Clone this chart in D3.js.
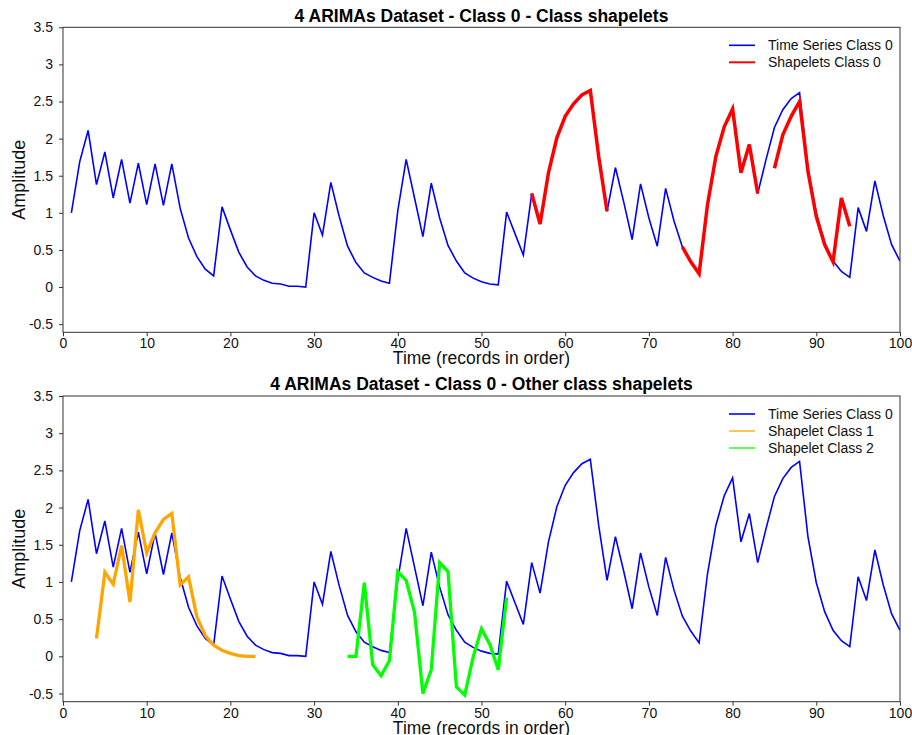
<!DOCTYPE html>
<html>
<head>
<meta charset="utf-8">
<script src="https://cdn.jsdelivr.net/npm/d3@7"></script>
<style>
  html, body { margin: 0; padding: 0; background: #fff; }
  svg { display: block; font-family: "Liberation Sans", Arial, sans-serif; }
</style>
</head>
<body>
<svg id="chart" width="912" height="735"></svg>
<script>
// ---------------- data ----------------
const timeIndex = d3.range(1, 101);
const seriesClass0 = [
  1.00, 1.69, 2.11, 1.38, 1.82, 1.20, 1.72, 1.13, 1.67, 1.11,
  1.66, 1.10, 1.66, 1.06, 0.66, 0.41, 0.24, 0.15, 1.08, 0.77,
  0.47, 0.27, 0.15, 0.09, 0.05, 0.04, 0.01, 0.01, 0.00, 1.00,
  0.70, 1.41, 0.95, 0.55, 0.33, 0.19, 0.13, 0.08, 0.05, 1.03,
  1.72, 1.20, 0.68, 1.40, 0.93, 0.56, 0.35, 0.19, 0.12, 0.07,
  0.04, 0.03, 1.01, 0.72, 0.43, 1.26, 0.85, 1.54, 2.01, 2.30,
  2.47, 2.59, 2.65, 1.76, 1.02, 1.61, 1.14, 0.64, 1.39, 0.93,
  0.55, 1.33, 0.89, 0.54, 0.34, 0.18, 1.11, 1.76, 2.16, 2.40,
  1.54, 1.92, 1.26, 1.72, 2.15, 2.39, 2.54, 2.62, 1.61, 0.99,
  0.60, 0.35, 0.21, 0.13, 1.07, 0.75, 1.43, 0.96, 0.57, 0.35
];

// class 0 shapelets (start index + values)
const shapeletA_start = 56;
const shapeletA = [1.26, 0.85, 1.54, 2.01, 2.30, 2.47, 2.59, 2.65, 1.76, 1.02];
const shapeletB_start = 74;
const shapeletB = [0.54, 0.34, 0.18, 1.11, 1.76, 2.16, 2.40, 1.54, 1.92, 1.26];
const shapeletC_start = 85;
const shapeletC = [1.60, 2.05, 2.30, 2.50, 1.56, 0.95, 0.57, 0.34, 1.20, 0.82];

// other class shapelets
const shapeletClass1_start = 4;
const shapeletClass1 = [0.24, 1.13, 0.97, 1.49, 0.73, 1.97, 1.39, 1.66, 1.84, 1.92,
                        0.96, 1.07, 0.53, 0.28, 0.15, 0.08, 0.04, 0.01, 0.00, 0.00];
const shapeletClass2_start = 34;
const shapeletClass2 = [0.00, 0.00, 0.99, -0.11, -0.26, -0.06, 1.14, 1.02, 0.59, -0.50,
                        -0.18, 1.26, 1.14, -0.41, -0.52, -0.01, 0.37, 0.16, -0.18, 0.79];

const xTicks = [0, 10, 20, 30, 40, 50, 60, 70, 80, 90, 100];
const yTicks = [-0.5, 0, 0.5, 1, 1.5, 2, 2.5, 3, 3.5];
const xDomain = [0, 100];
const yDomain = [-0.61, 3.5];

const titles = ["4 ARIMAs Dataset - Class 0 - Class shapelets",
                "4 ARIMAs Dataset - Class 0 - Other class shapelets"];
const xLabel = "Time (records in order)";
const yLabel = "Amplitude";

// ---------------- drawing ----------------
const svg = d3.select("#chart");
const left = 63, right = 900;

function toPoints(start, vals) {
  return vals.map((v, i) => ({ x: start + i, y: v }));
}

function panel(top, bottom, title, lines, legendItems) {
  const x = d3.scaleLinear().domain(xDomain).range([left, right]);
  const y = d3.scaleLinear().domain(yDomain).range([bottom, top]);
  const g = svg.append("g");

  const clipId = "clip" + Math.round(top);
  g.append("clipPath").attr("id", clipId)
    .append("rect").attr("x", left).attr("y", top)
    .attr("width", right - left).attr("height", bottom - top);

  const line = d3.line().x(d => x(d.x)).y(d => y(d.y));
  const lg = g.append("g").attr("clip-path", `url(#${clipId})`);
  lines.forEach(l => {
    lg.append("path").datum(l.data)
      .attr("fill", "none").attr("stroke", l.color)
      .attr("stroke-width", l.width)
      .attr("stroke-linejoin", "miter").attr("stroke-miterlimit", 4)
      .attr("d", line);
  });

  // axes
  const xa = g.append("g").attr("transform", `translate(0,${bottom})`)
    .call(d3.axisBottom(x).tickValues(xTicks).tickFormat(d3.format("d"))
      .tickSize(4).tickSizeOuter(0).tickPadding(2));
  const ya = g.append("g").attr("transform", `translate(${left},0)`)
    .call(d3.axisLeft(y).tickValues(yTicks).tickFormat(d => String(d))
      .tickSize(4).tickSizeOuter(0).tickPadding(6));
  [xa, ya].forEach(a => {
    a.select(".domain").remove();
    a.selectAll(".tick line").attr("stroke", "#333");
    a.selectAll(".tick text").attr("fill", "#111")
      .style("font-size", "14px").style("font-family", '"Liberation Sans", Arial, sans-serif');
  });

  // frame
  g.append("rect").attr("x", left).attr("y", top)
    .attr("width", right - left).attr("height", bottom - top)
    .attr("fill", "none").attr("stroke", "#333").attr("stroke-width", 1);

  // title
  g.append("text").attr("x", (left + right) / 2).attr("y", top - 5.8)
    .attr("text-anchor", "middle").style("font-weight", "bold")
    .style("font-size", "17.5px").attr("fill", "#000").text(title);

  // x label
  g.append("text").attr("x", (left + right) / 2).attr("y", bottom + 32)
    .attr("text-anchor", "middle").style("font-size", "17.5px")
    .attr("fill", "#111").text(xLabel);

  // y label
  g.append("text")
    .attr("transform", `translate(25,${(top + bottom) / 2}) rotate(-90)`)
    .attr("text-anchor", "middle").style("font-size", "18px")
    .attr("fill", "#111").text(yLabel);

  // legend
  legendItems.forEach((it, i) => {
    const ly = top + 18 + i * 17;
    g.append("line").attr("x1", 729).attr("x2", 755)
      .attr("y1", ly).attr("y2", ly)
      .attr("stroke", it.color).attr("stroke-width", it.width);
    g.append("text").attr("x", 768).attr("y", ly + 5)
      .style("font-size", "14px").attr("fill", "#111").text(it.label);
  });
}

const seriesPts = seriesClass0.map((v, i) => ({ x: timeIndex[i], y: v }));

panel(27.3, 332.3, titles[0], [
  { data: seriesPts, color: "#0000FF", width: 1.6 },
  { data: toPoints(shapeletA_start, shapeletA), color: "#FF0000", width: 3.5 },
  { data: toPoints(shapeletB_start, shapeletB), color: "#FF0000", width: 3.5 },
  { data: toPoints(shapeletC_start, shapeletC), color: "#FF0000", width: 3.5 }
], [
  { label: "Time Series Class 0", color: "#0000FF", width: 1.6 },
  { label: "Shapelets Class 0", color: "#FF0000", width: 2 }
]);

panel(396, 701.7, titles[1], [
  { data: seriesPts, color: "#0000FF", width: 1.6 },
  { data: toPoints(shapeletClass1_start, shapeletClass1), color: "#FFA500", width: 3.3 },
  { data: toPoints(shapeletClass2_start, shapeletClass2), color: "#00FF00", width: 3.3 }
], [
  { label: "Time Series Class 0", color: "#0000FF", width: 1.6 },
  { label: "Shapelet Class 1", color: "#FFA500", width: 1.3 },
  { label: "Shapelet Class 2", color: "#00FF00", width: 1.3 }
]);
</script>
</body>
</html>
